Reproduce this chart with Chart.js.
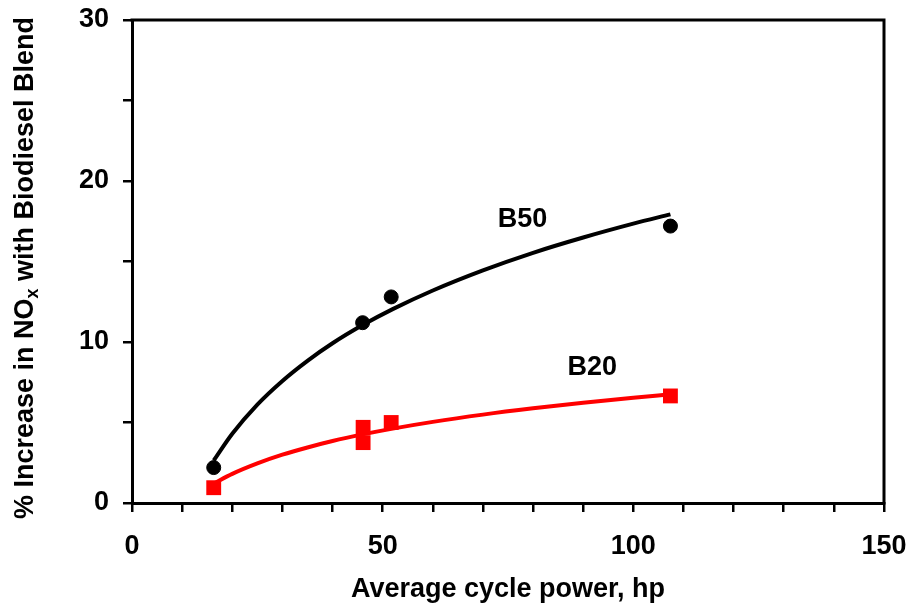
<!DOCTYPE html>
<html>
<head>
<meta charset="utf-8">
<script src="https://cdn.jsdelivr.net/npm/chart.js@4/dist/chart.umd.min.js"></script>
<style>
  html, body { margin: 0; padding: 0; background: #ffffff; }
  #wrap { width: 910px; height: 603px; }
</style>
</head>
<body>
<div id="wrap"><canvas id="c" width="910" height="603"></canvas></div>
<script>
// ---- Data ----
const b50X = [16.3, 46.0, 51.7, 107.4];
const b50Y = [2.2, 11.2, 12.8, 17.2];
const b20X = [16.3, 46.1, 46.1, 51.7, 107.4];
const b20Y = [0.95, 4.7, 3.75, 5.0, 6.65];

// trend curves
const fitX  = [16.3, 20, 25, 30, 35, 40, 46, 52, 60, 70, 80, 90, 100, 107.4];
const b50FitY = [2.64, 4.30, 6.11, 7.58, 8.83, 9.92, 11.05, 12.04, 13.20, 14.45, 15.54, 16.49, 17.35, 17.93];
const b20FitY = [1.21, 1.81, 2.46, 3.00, 3.45, 3.85, 4.26, 4.62, 5.04, 5.49, 5.88, 6.23, 6.54, 6.75];

const xLabeled = [0, 50, 100, 150];
const yLabeled = [0, 10, 20, 30];

const seriesLabels = ['B50', 'B20'];
const seriesLabelX = [77.9, 91.8];
const seriesLabelY = [17.6, 8.4];

const xTitle = 'Average cycle power, hp';
const yTitleParts = ['% Increase in NO', 'x', ' with Biodiesel Blend'];

// ---- helpers ----
const toPts = (xs, ys) => xs.map((x, i) => ({ x: x, y: ys[i] }));
const FONT = '"Liberation Sans", Arial, sans-serif';

const framePlugin = {
  id: 'frame',
  afterDatasetsDraw(chart) {
    const { ctx, chartArea: a, scales } = chart;
    ctx.save();
    ctx.strokeStyle = '#000';
    ctx.lineWidth = 3;
    ctx.beginPath();
    ctx.moveTo(a.left - 1.5, a.top);
    ctx.lineTo(a.right, a.top);
    ctx.lineTo(a.right, a.bottom + 1.5);
    ctx.stroke();
    // series labels
    ctx.fillStyle = '#000';
    ctx.font = 'bold 27px ' + FONT;
    ctx.textAlign = 'center';
    ctx.textBaseline = 'middle';
    seriesLabels.forEach((t, i) => {
      ctx.fillText(t, scales.x.getPixelForValue(seriesLabelX[i]), scales.y.getPixelForValue(seriesLabelY[i]));
    });
    ctx.restore();
  },
  afterDraw(chart) {
    const { ctx } = chart;
    ctx.save();
    ctx.fillStyle = '#000';
    ctx.translate(33, 268);
    ctx.rotate(-Math.PI / 2);
    ctx.textBaseline = 'alphabetic';
    ctx.textAlign = 'left';
    const big = 'bold 27px ' + FONT, small = 'bold 18px ' + FONT;
    ctx.font = big;
    const w1 = ctx.measureText(yTitleParts[0]).width;
    const w3 = ctx.measureText(yTitleParts[2]).width;
    ctx.font = small;
    const w2 = ctx.measureText(yTitleParts[1]).width;
    let x0 = -(w1 + w2 + w3) / 2;
    ctx.font = big;
    ctx.fillText(yTitleParts[0], x0, 0);
    ctx.font = small;
    ctx.fillText(yTitleParts[1], x0 + w1, 5);
    ctx.font = big;
    ctx.fillText(yTitleParts[2], x0 + w1 + w2, 0);
    ctx.restore();
  }
};

new Chart(document.getElementById('c'), {
  type: 'scatter',
  data: {
    datasets: [
      { label: 'B50 data', data: toPts(b50X, b50Y), showLine: false,
        pointStyle: 'circle', pointRadius: 7, pointBorderWidth: 1,
        backgroundColor: '#000', borderColor: '#000' },
      { label: 'B20 data', data: toPts(b20X, b20Y), showLine: false,
        pointStyle: 'rect', pointRadius: 10.5, pointBorderWidth: 0,
        backgroundColor: '#ff0000', borderColor: '#ff0000' },
      { label: 'B50 fit', data: toPts(fitX, b50FitY), showLine: true,
        pointRadius: 0, borderColor: '#000', borderWidth: 4,
        cubicInterpolationMode: 'monotone', fill: false },
      { label: 'B20 fit', data: toPts(fitX, b20FitY), showLine: true,
        pointRadius: 0, borderColor: '#ff0000', borderWidth: 4,
        cubicInterpolationMode: 'monotone', fill: false }
    ]
  },
  options: {
    responsive: false,
    animation: false,
    devicePixelRatio: 1,
    layout: { padding: { left: 0, right: 26, top: 20, bottom: 0 } },
    plugins: { legend: { display: false }, tooltip: { enabled: false } },
    scales: {
      x: {
        type: 'linear', min: 0, max: 150,
        afterFit: s => { s.height = 100; s.paddingLeft = 0; s.paddingRight = 0; },
        ticks: {
          stepSize: 10, autoSkip: false, maxRotation: 0, padding: 18,
          color: '#000', font: { family: FONT, size: 27, weight: 'bold' },
          callback: v => xLabeled.includes(v) ? String(v) : ''
        },
        grid: { drawOnChartArea: false, drawTicks: true, tickLength: 9, color: '#000', lineWidth: 2.5 },
        border: { display: true, color: '#000', width: 3 },
        title: { display: true, text: xTitle, color: '#000',
          font: { family: FONT, size: 27, weight: 'bold', lineHeight: 0.9 },
          padding: { top: 0, bottom: 1 } }
      },
      y: {
        type: 'linear', min: 0, max: 30,
        afterFit: s => { s.width = 132; s.paddingTop = 0; s.paddingBottom = 0; },
        ticks: {
          stepSize: 5, autoSkip: false, padding: 14,
          color: '#000', font: { family: FONT, size: 27, weight: 'bold' },
          callback: v => yLabeled.includes(v) ? String(v) : ''
        },
        grid: { drawOnChartArea: false, drawTicks: true, tickLength: 9, color: '#000', lineWidth: 2.5 },
        border: { display: true, color: '#000', width: 3 }
      }
    }
  },
  plugins: [framePlugin]
});
</script>
</body>
</html>
